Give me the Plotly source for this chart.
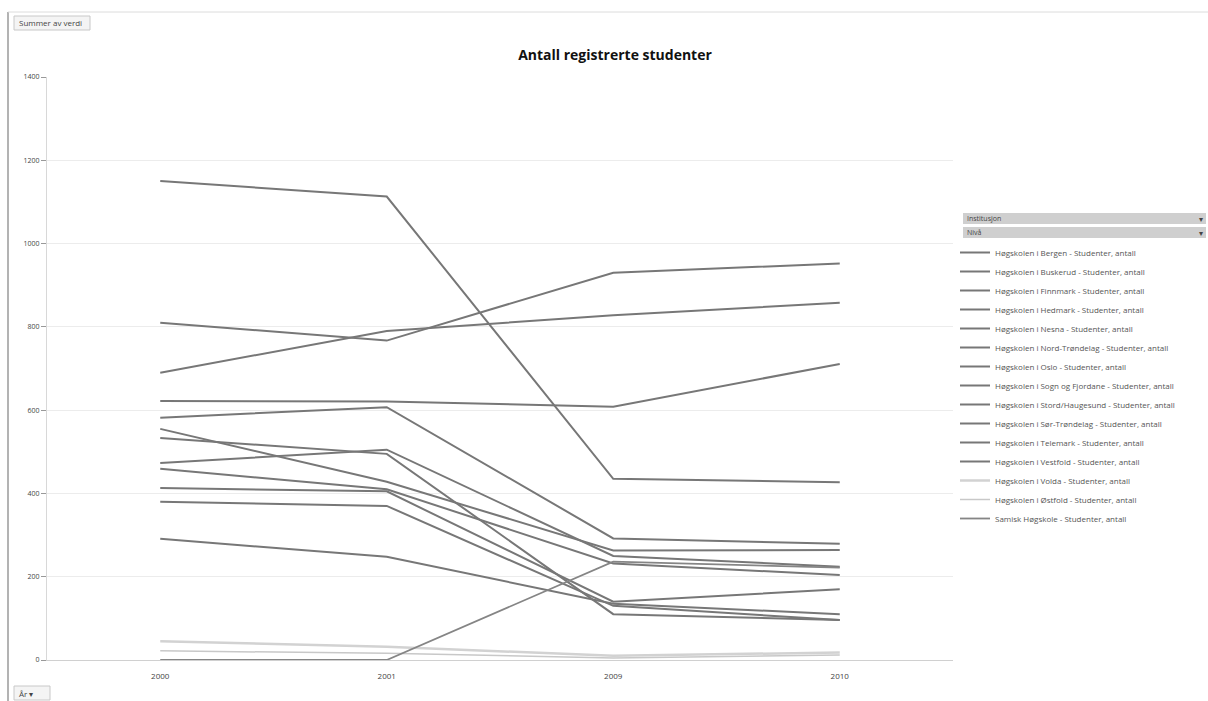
import plotly.graph_objects as go

# Years on the category axis
years = ["2000", "2001", "2009", "2010"]

# Registered students per institution
bergen = [690, 790, 828, 858]
buskerud = [555, 428, 263, 264]
finnmark = [291, 248, 135, 110]
hedmark = [622, 621, 608, 711]
nesna = [380, 370, 130, 96]
nord_trondelag = [473, 505, 250, 224]
oslo = [1150, 1113, 435, 427]
sogn_fjordane = [413, 405, 140, 170]
stord_haugesund = [582, 607, 292, 279]
sor_trondelag = [810, 767, 930, 952]
telemark = [459, 410, 232, 204]
vestfold = [533, 495, 110, 96]
volda = [45, 32, 10, 18]
ostfold = [22, 16, 5, 12]
samisk = [0, 0, 236, 222]

series = [
    ("Høgskolen i Bergen - Studenter, antall", bergen),
    ("Høgskolen i Buskerud - Studenter, antall", buskerud),
    ("Høgskolen i Finnmark - Studenter, antall", finnmark),
    ("Høgskolen i Hedmark - Studenter, antall", hedmark),
    ("Høgskolen i Nesna - Studenter, antall", nesna),
    ("Høgskolen i Nord-Trøndelag - Studenter, antall", nord_trondelag),
    ("Høgskolen i Oslo - Studenter, antall", oslo),
    ("Høgskolen i Sogn og Fjordane - Studenter, antall", sogn_fjordane),
    ("Høgskolen i Stord/Haugesund - Studenter, antall", stord_haugesund),
    ("Høgskolen i Sør-Trøndelag - Studenter, antall", sor_trondelag),
    ("Høgskolen i Telemark - Studenter, antall", telemark),
    ("Høgskolen i Vestfold - Studenter, antall", vestfold),
    ("Høgskolen i Volda - Studenter, antall", volda),
    ("Høgskolen i Østfold - Studenter, antall", ostfold),
    ("Samisk Høgskole - Studenter, antall", samisk),
]

line_styles = {
    "Høgskolen i Volda - Studenter, antall": dict(color="#d2d2d2", width=2.5),
    "Høgskolen i Østfold - Studenter, antall": dict(color="#c8c8c8", width=1.5),
    "Samisk Høgskole - Studenter, antall": dict(color="#858585", width=1.8),
}

fig = go.Figure()
for name, vals in series:
    style = line_styles.get(name, dict(color="#777777", width=2))
    fig.add_trace(go.Scatter(x=years, y=vals, name=name, mode="lines", line=style))

# plot area geometry in pixels
W, H = 1208, 701
L, R, T, B = 47, 953, 77, 660


def px_x(p):
    return (p - L) / (R - L)


def px_y(p):
    return (B - p) / (B - T)


shapes = [
    # chart area border
    dict(type="line", xref="paper", yref="paper", x0=px_x(8), x1=px_x(8),
         y0=px_y(12), y1=px_y(701), line=dict(color="#9a9a9a", width=1.5)),
    dict(type="line", xref="paper", yref="paper", x0=px_x(8), x1=px_x(1208),
         y0=px_y(12), y1=px_y(12), line=dict(color="#dcdcdc", width=1)),
    # "Summer av verdi" field button
    dict(type="rect", xref="paper", yref="paper", x0=px_x(14), x1=px_x(90),
         y0=px_y(30), y1=px_y(16), line=dict(color="#c8c8c8", width=1),
         fillcolor="#f4f4f4"),
    # legend filter bars
    dict(type="rect", xref="paper", yref="paper", x0=px_x(963), x1=px_x(1206),
         y0=px_y(224), y1=px_y(213), line=dict(width=0), fillcolor="#cfcfcf"),
    dict(type="rect", xref="paper", yref="paper", x0=px_x(963), x1=px_x(1206),
         y0=px_y(238), y1=px_y(227), line=dict(width=0), fillcolor="#cfcfcf"),
    # "År" field button
    dict(type="rect", xref="paper", yref="paper", x0=px_x(14), x1=px_x(50),
         y0=px_y(700), y1=px_y(686), line=dict(color="#c8c8c8", width=1),
         fillcolor="#f4f4f4"),
]

ann_font = dict(family="Open Sans, sans-serif", size=8, color="#444")
annotations = [
    dict(text="Summer av verdi", xref="paper", yref="paper", x=px_x(17), y=px_y(23),
         xanchor="left", yanchor="middle", showarrow=False, font=ann_font),
    dict(text="Institusjon", xref="paper", yref="paper", x=px_x(965), y=px_y(218.5),
         xanchor="left", yanchor="middle", showarrow=False, font=dict(ann_font, size=7)),
    dict(text="▾", xref="paper", yref="paper", x=px_x(1205), y=px_y(218.5),
         xanchor="right", yanchor="middle", showarrow=False, font=dict(ann_font, size=8)),
    dict(text="Nivå", xref="paper", yref="paper", x=px_x(965), y=px_y(232.5),
         xanchor="left", yanchor="middle", showarrow=False, font=dict(ann_font, size=7)),
    dict(text="▾", xref="paper", yref="paper", x=px_x(1205), y=px_y(232.5),
         xanchor="right", yanchor="middle", showarrow=False, font=dict(ann_font, size=8)),
    dict(text="År ▾", xref="paper", yref="paper", x=px_x(17), y=px_y(693),
         xanchor="left", yanchor="middle", showarrow=False, font=ann_font),
]

fig.update_layout(
    width=W, height=H,
    margin=dict(l=L, r=W - R, t=T, b=H - B),
    paper_bgcolor="white", plot_bgcolor="white",
    title=dict(text="<b>Antall registrerte studenter</b>", x=(615) / W, xanchor="center",
               y=1 - 55 / H, yanchor="middle",
               font=dict(family="Open Sans, sans-serif", size=14, color="#111")),
    font=dict(family="Open Sans, sans-serif", size=8, color="#444"),
    showlegend=True,
    legend=dict(x=px_x(955), y=px_y(238), xanchor="left", yanchor="top",
                font=dict(size=8, color="#555"), itemwidth=30,
                bgcolor="rgba(0,0,0,0)", tracegroupgap=0),
    xaxis=dict(type="category", range=[-0.5, 3.5], showgrid=False, showline=True,
               linecolor="#d0d0d0", ticks="", ticklabelstandoff=8,
               tickfont=dict(size=8, color="#444")),
    yaxis=dict(range=[0, 1400], dtick=200, showgrid=True, gridcolor="#ececec",
               gridwidth=1, showline=True, linecolor="#d8d8d8", ticks="outside",
               ticklen=5, tickcolor="#999", zeroline=False,
               tickfont=dict(size=7, color="#444")),
    shapes=shapes,
    annotations=annotations,
)

fig.write_html("out.html")
